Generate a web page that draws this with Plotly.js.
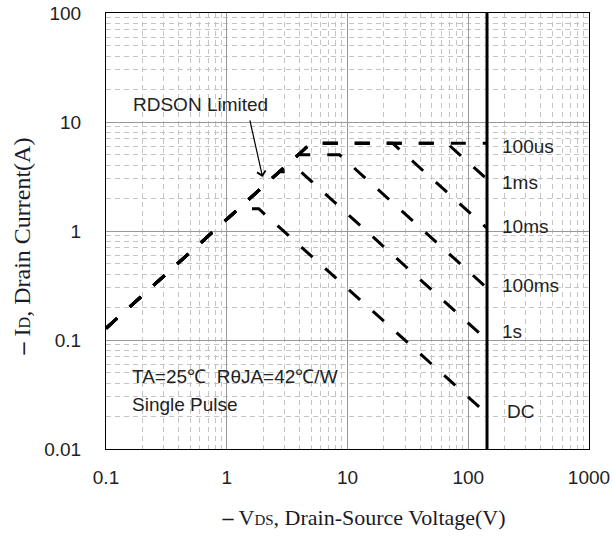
<!DOCTYPE html>
<html><head><meta charset="utf-8">
<script src="https://cdn.plot.ly/plotly-3.0.1.min.js"></script>
<style>html,body{margin:0;padding:0;background:#fff}</style>
</head><body><div id="chart" style="width:613px;height:537px"></div>
<script>
// Tick labels
const xTickVals = [0.1, 1, 10, 100, 1000];
const xTickText = ["0.1", "1", "10", "100", "1000"];
const yTickVals = [0.01, 0.1, 1, 10, 100];
const yTickText = ["0.01", "0.1", "1", "10", "100"];

// Safe operating area curves (VDS in V, ID in A)
const curveNames = ["100us", "1ms", "10ms", "100ms", "1s", "DC"];
const x100us = [0.1, 5.0, 143];
const y100us = [0.128, 6.4, 6.4];
const x1ms = [0.1, 5.0, 66.5, 143];
const y1ms = [0.128, 6.4, 6.4, 2.99];
const x10ms = [0.1, 5.0, 23.6, 143];
const y10ms = [0.128, 6.4, 6.4, 1.06];
const x100ms = [0.1, 3.9, 8.6, 143];
const y100ms = [0.128, 5.0, 5.0, 0.30];
const x1s = [0.1, 2.73, 4.1, 143];
const y1s = [0.128, 3.5, 3.5, 0.10];
const xDC = [0.1, 1.25, 1.84, 143];
const yDC = [0.128, 1.6, 1.6, 0.021];
// Breakdown voltage limit
const bvdssX = [143, 143];
const bvdssY = [0.01, 100];
// RDSON arrow target
const rdsonPoint = [1.98, 3.13];

const curvesX = [x100us, x1ms, x10ms, x100ms, x1s, xDC];
const curvesY = [y100us, y1ms, y10ms, y100ms, y1s, yDC];

const traces = curveNames.map((n, i) => ({
  x: curvesX[i], y: curvesY[i], name: n, type: 'scatter', mode: 'lines',
  line: {color: '#000', width: 3, dash: '15px,17px'}, hoverinfo: 'skip'
}));
traces.push({x: bvdssX, y: bvdssY, type: 'scatter', mode: 'lines',
  line: {color: '#000', width: 3}, hoverinfo: 'skip', name: 'BVDSS'});

const labFont = {family: 'Liberation Sans, Arial, sans-serif', size: 19, color: '#222'};
const labelY = [0.6933, 0.6101, 0.5099, 0.3761, 0.2690, 0.0856];
const labelX = [0.8157, 0.8157, 0.8157, 0.8157, 0.8157, 0.8261];
const annotations = curveNames.map((n, i) => ({
  text: n, xref: 'paper', yref: 'paper', x: labelX[i], y: labelY[i],
  xanchor: 'left', yanchor: 'middle', showarrow: false, font: labFont
}));
annotations.push({text: 'RDSON Limited', xref: 'paper', yref: 'paper', x: 0.052, y: 0.789,
  xanchor: 'left', yanchor: 'middle', showarrow: false, font: labFont});
annotations.push({text: 'TA=25℃&nbsp;&nbsp;RθJA=42℃/W', xref: 'paper', yref: 'paper', x: 0.0497, y: 0.1674,
  xanchor: 'left', yanchor: 'middle', showarrow: false, font: labFont});
annotations.push({text: 'Single Pulse', xref: 'paper', yref: 'paper', x: 0.0497, y: 0.1032,
  xanchor: 'left', yanchor: 'middle', showarrow: false, font: labFont});
annotations.push({text: '', x: Math.log10(rdsonPoint[0]), y: Math.log10(rdsonPoint[1]),
  xref: 'x', yref: 'y', showarrow: true, ax: -13, ay: -58, arrowhead: 4, arrowsize: 1.4,
  arrowwidth: 1.2, arrowcolor: '#000'});

const gridMinor = {dtick: 'D1', showgrid: true, gridcolor: '#c4c4c4', griddash: '5px,4px', gridwidth: 1, ticks: ''};
const tickFont = {family: 'Liberation Sans, Arial, sans-serif', size: 19, color: '#222'};
const titleFont = {family: 'Liberation Serif, Times New Roman, serif', size: 22, color: '#1a1a2a'};

const layout = {
  width: 613, height: 537,
  margin: {l: 106, r: 24, t: 13, b: 88},
  paper_bgcolor: '#fff', plot_bgcolor: '#fff',
  showlegend: false,
  xaxis: {type: 'log', range: [-1, 3], tickvals: xTickVals, ticktext: xTickText,
    showgrid: true, gridcolor: '#999', gridwidth: 1, zeroline: false,
    showline: true, mirror: true, linecolor: '#000', linewidth: 1,
    ticks: '', ticklabelstandoff: 11, tickfont: tickFont, minor: gridMinor,
    title: {text: '&nbsp;&nbsp;&nbsp;&nbsp;&nbsp;&nbsp;<b>–</b> V<span style="font-size:15px">DS</span>, Drain-Source Voltage(V)', font: titleFont, standoff: 22}},
  yaxis: {type: 'log', range: [-2, 2], tickvals: yTickVals, ticktext: yTickText,
    showgrid: true, gridcolor: '#999', gridwidth: 1, zeroline: false,
    showline: true, mirror: true, linecolor: '#000', linewidth: 1,
    ticks: '', ticklabelstandoff: 20, tickfont: tickFont, minor: gridMinor,
    title: {text: '<b>–</b> I<span style="font-size:16px">D</span>, Drain Current(A)&nbsp;&nbsp;&nbsp;&nbsp;&nbsp;', font: Object.assign({}, titleFont, {size: 24}), standoff: 6}},
  annotations: annotations
};

Plotly.newPlot('chart', traces, layout, {staticPlot: true, displayModeBar: false});
</script>
</body></html>
